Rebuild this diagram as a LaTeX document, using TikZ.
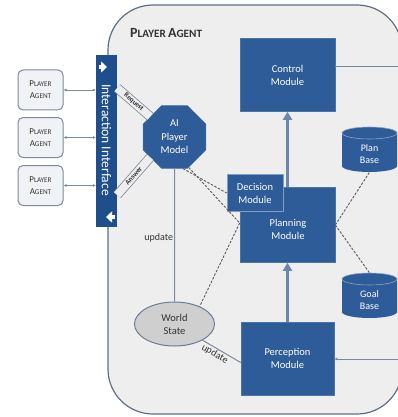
\documentclass[tikz,border=0pt]{standalone}
\usepackage{fontspec}
\setmainfont{Carlito}
\usetikzlibrary{arrows.meta,shapes.geometric,calc}
\definecolor{modblue}{HTML}{2E5C98}
\definecolor{barblue}{HTML}{1F4E8C}
\definecolor{framefill}{HTML}{EEEEEE}
\definecolor{frameline}{HTML}{5F6F82}
\definecolor{conn}{HTML}{7D8A99}
\definecolor{thickarrow}{HTML}{6D87AB}
\definecolor{wsfill}{HTML}{CFCFCF}
\definecolor{wsline}{HTML}{6C7E95}
\definecolor{pafill}{HTML}{F0F2F5}
\definecolor{txtdark}{HTML}{333333}
\newcommand\mysc[3]{{\fontsize{#3}{#3}\selectfont #1}{\fontsize{\dimexpr#3pt*4/5\relax}{#3}\selectfont #2}}
\begin{document}
\begin{tikzpicture}[x=1pt,y=1pt,
  modfont/.style={font=\fontsize{10.5}{13}\selectfont},
  module/.style={rectangle, fill=modblue, draw=modblue!85!white, line width=0.6pt, text=white, align=center, inner sep=0pt, modfont},
  pabox/.style={rectangle, rounded corners=5pt, fill=pafill, draw=conn, line width=1pt, minimum width=45pt, minimum height=40pt, align=center, text=txtdark, inner sep=0pt},
  connline/.style={draw=conn, line width=1pt},
  thickarr/.style={draw=thickarrow, line width=3pt, -{Triangle[width=9pt,length=8pt]}},
  dashline/.style={draw=txtdark!80, line width=0.9pt, dash pattern=on 2.5pt off 1.5pt},
  lbl/.style={text=txtdark, font=\fontsize{10}{11}\selectfont, inner sep=1pt},
  bandline/.style={draw=conn, line width=0.8pt, double=framefill, double distance=8pt},
  band/.style={text=txtdark, font=\fontsize{7}{8}\selectfont\bfseries, inner sep=0pt}
]
\useasboundingbox (0,-417) rectangle (398,0);
\fill[white] (0,-417) rectangle (398,0);
% frame
\draw[fill=framefill, draw=frameline, line width=1.2pt, rounded corners=45pt] (108,-5) rectangle (402,-414);
\node[anchor=west, text=txtdark, font=\bfseries, inner sep=0pt] (title) at (130,-33) {\mysc{P}{LAYER}{14} \mysc{A}{GENT}{14}};

% bar
\node[rectangle, fill=barblue, minimum width=21pt, minimum height=172pt, inner sep=0pt] (bar) at (106.5,-141) {};
\node[rotate=-90, text=white, font=\fontsize{13.5}{14}\selectfont, inner sep=0pt] (bartext) at (106.5,-140) {Interaction Interface};
\draw[white, line width=4pt, -{Triangle[width=11pt,length=6pt]}] ([xshift=-8pt,yshift=74pt]bar.center) coordinate (ta) -- ([xshift=8.5pt]ta);
\draw[white, line width=4pt, -{Triangle[width=11pt,length=6pt]}] ([xshift=8pt,yshift=-76pt]bar.center) coordinate (tb) -- ([xshift=-8.5pt]tb);

% player agent boxes
\node[pabox] (pa1) at (40.5,-90) {\mysc{P}{LAYER}{9}\\[0pt]\mysc{A}{GENT}{9}};
\node[pabox] (pa2) at (40.5,-137.5) {\mysc{P}{LAYER}{9}\\[0pt]\mysc{A}{GENT}{9}};
\node[pabox] (pa3) at (40.5,-185.5) {\mysc{P}{LAYER}{9}\\[0pt]\mysc{A}{GENT}{9}};
\foreach \p in {pa1,pa2,pa3}
  \draw[connline, line width=0.8pt, {Latex[length=3pt,width=3pt]}-{Latex[length=3pt,width=3pt]}] (\p.east) -- (bar.west |- \p.east);

% modules
\node[module, minimum width=95pt, minimum height=73pt] (ctrl) at (287.5,-75) {Control\\Module};
\node[module, minimum width=95pt, minimum height=75pt] (plan) at (287.5,-225) {};
\node[text=white, align=center, inner sep=0pt, modfont] (plantext) at (288,-229) {Planning\\Module};
\node[module, minimum width=56pt, minimum height=37pt, draw=modblue!60!white] (dec) at (255,-193) {Decision\\Module};
\node[module, minimum width=93pt, minimum height=73pt] (perc) at (287.5,-358.5) {Perception\\Module};

% AI Player Model
\node[regular polygon, regular polygon sides=8, minimum size=68pt, fill=modblue, draw=modblue!85!white, text=white, align=center, inner sep=0pt, font=\fontsize{10.5}{13.5}\selectfont] (ai) at (174.5,-137) {AI\\Player\\Model};

% World state
\node[ellipse, minimum width=80pt, minimum height=44pt, fill=wsfill, draw=wsline, line width=1pt, text=txtdark, align=center, inner sep=0pt, font=\fontsize{10.5}{13}\selectfont] (ws) at (174.5,-324) {World\\State};

% cylinders
\node[minimum width=55pt, minimum height=45pt, inner sep=0pt] (pb) at (369.5,-149.5) {};
\fill[modblue] (342,-133) -- (342,-166) arc[start angle=180,end angle=360,x radius=27.5,y radius=6] -- (397,-133) arc[start angle=0,end angle=180,x radius=27.5,y radius=6] -- cycle;
\draw[modblue!55!white, line width=0.6pt] (369.5,-133) ellipse[x radius=27.5,y radius=6];
\node[text=white, align=center, font=\fontsize{10}{12.5}\selectfont] (pbtext) at (369.5,-154) {Plan\\Base};

\node[minimum width=55pt, minimum height=45pt, inner sep=0pt] (gb) at (369.5,-295.5) {};
\fill[modblue] (342,-279) -- (342,-312) arc[start angle=180,end angle=360,x radius=27.5,y radius=6] -- (397,-279) arc[start angle=0,end angle=180,x radius=27.5,y radius=6] -- cycle;
\draw[modblue!55!white, line width=0.6pt] (369.5,-279) ellipse[x radius=27.5,y radius=6];
\node[text=white, align=center, font=\fontsize{10}{12.5}\selectfont] (gbtext) at (369.5,-300) {Goal\\Base};

% thick arrows
\draw[thickarr] (plan.north) -- (ctrl.south);
\draw[thickarr] (perc.north) -- (plan.south);

% right lines
\coordinate (rc) at (400,-67);
\coordinate (rp) at (400,-359);
\draw[connline] (ctrl.east |- rc) -- (rc);
\draw[connline, -{Latex[length=3pt,width=3pt]}] (rp) -- (perc.east |- rp);

% request / answer
\draw[bandline] ([yshift=53pt]bar.east) -- node[band, sloped] {Request} (ai.140);
\draw[bandline] ([yshift=-54pt]bar.east) -- node[band, sloped] {Answer} (ai.220);

% update lines
\draw[connline] (ai.south) -- node[lbl, left, pos=0.52] {update} (ws.north);
\draw[connline] (ws.-30) -- node[lbl, sloped, below, pos=0.4] {update} ([yshift=-4pt]perc.west);

% dashed lines
\coordinate (pl) at ([yshift=2pt]plan.west);
\draw[dashline] (ai.-75) -- (dec.west);
\draw[dashline] (ai.-65) -- (pl);
\draw[dashline] (pl) -- (ws.35);
\draw[dashline] (plan.east) -- (pb.south);
\draw[dashline] (plan.east) -- (gb.north);
\end{tikzpicture}
\end{document}
